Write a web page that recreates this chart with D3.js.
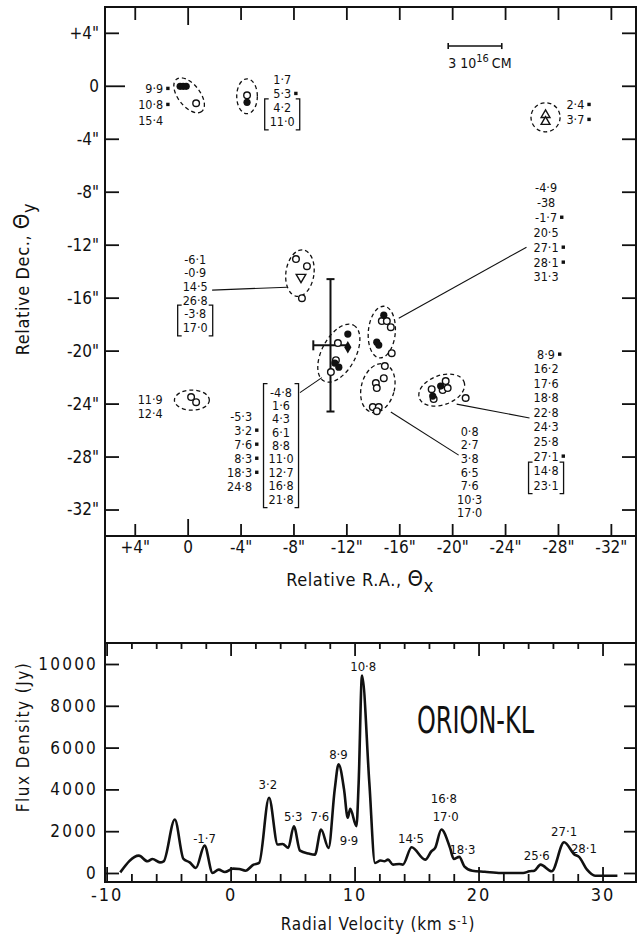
<!DOCTYPE html>
<html>
<head>
<meta charset="utf-8">
<script src="https://cdn.jsdelivr.net/npm/d3@7"></script>
<style>
  body { margin: 0; background: #fff; }
  text { font-family: "Liberation Sans Narrow", "DejaVu Sans Condensed", sans-serif; font-stretch: condensed; fill: #111; }
</style>
</head>
<body>
<script>
// ---- map panel: tick values (arcsec)
var raTicks = [4, 0, -4, -8, -12, -16, -20, -24, -28, -32];
var decTicks = [4, 0, -4, -8, -12, -16, -20, -24, -28, -32];

// maser spot groups, [theta_x, theta_y] in arcsec
var openSpots = [
  [-0.64, -1.32], [-4.49, -0.72],
  [-8.19, -13.09], [-9.02, -13.62], [-8.64, -16.04],
  [-0.26, -23.51], [-0.64, -23.89],
  [-11.36, -19.43], [-11.21, -20.72], [-10.83, -21.62],
  [-14.68, -17.77], [-15.06, -17.77], [-15.36, -18.23], [-15.43, -20.19],
  [-14.91, -21.17], [-14.83, -22.08], [-14.23, -22.45], [-14.30, -22.83], [-14.00, -24.26], [-14.45, -24.26], [-14.30, -24.57],
  [-18.45, -22.91], [-18.60, -23.66], [-19.28, -22.98], [-19.51, -22.30], [-19.66, -22.83], [-21.02, -23.58]
];
var filledSpots = [
  [0.57, -0.04], [0.34, -0.04], [0.11, -0.04], [-4.49, -1.25],
  [-12.11, -18.75], [-11.13, -20.94], [-11.43, -21.25],
  [-14.83, -17.32], [-14.30, -19.36], [-14.45, -19.58],
  [-18.53, -23.43], [-19.13, -22.68]
];
var diamondSpots = [[-12.11, -19.74]];
var upTriangles = [[-27.06, -2.2], [-27.06, -2.72]];
var downTriangles = [[-8.57, -14.45]];

// dashed outlines: [cx, cy, rx, ry, tilt deg]
var groupOutlines = [
  [-0.11, -0.72, 1.55, 0.83, 52],
  [-4.49, -0.79, 0.78, 1.32, 0],
  [-27.06, -2.38, 1.1, 1.1, 0],
  [-8.49, -14.15, 1.06, 1.77, 8],
  [-0.32, -23.74, 1.32, 0.76, 0],
  [-11.43, -20.19, 2.39, 1.28, -62],
  [-14.68, -18.6, 1.02, 1.96, 5],
  [-14.38, -22.83, 1.25, 1.89, 15],
  [-19.21, -22.98, 1.8, 1.11, -20]
];

// error cross: centre, half widths (arcsec)
var errCentre = [-10.8, -19.6];
var errHalf = [1.3, 5.0];

// scale bar (arcsec)
var scaleBar = [-19.7, -23.75, 3.0];

// leader lines [x1, y1, x2, y2]
var leaders = [
  [-1.85, -15.43, -7.51, -15.21],
  [-8.49, -23.17, -10.15, -22.04],
  [-15.96, -17.55, -25.62, -12.19],
  [-15.36, -24.64, -20.49, -27.89],
  [-20.34, -24.04, -25.85, -25.09]
];

// velocities listed beside each group (km/s)
var velA = ["9·9", "10·8", "15·4"];
var markA = [0, 1];
var velB = ["1·7", "5·3", "4·2", "11·0"];
var markB = [1];
var velC = ["2·4", "3·7"];
var markC = [0, 1];
var velD = ["-6·1", "-0·9", "14·5", "26·8", "-3·8", "17·0"];
var velE = ["11·9", "12·4"];
var velF1 = ["-5·3", "3·2", "7·6", "8·3", "18·3", "24·8"];
var markF1 = [1, 2, 3, 4];
var velF2 = ["-4·8", "1·6", "4·3", "6·1", "8·8", "11·0", "12·7", "16·8", "21·8"];
var velG = ["-4·9", "-38", "-1·7", "20·5", "27·1", "28·1", "31·3"];
var markG = [2, 4, 5];
var velH = ["0·8", "2·7", "3·8", "6·5", "7·6", "10·3", "17·0"];
var velI = ["8·9", "16·2", "17·6", "18·8", "22·8", "24·3", "25·8", "27·1", "14·8", "23·1"];
var markI = [0, 7];

// ---- spectrum
var velTicks = d3.range(-10, 31, 2);
var fluxTicks = [0, 2000, 4000, 6000, 8000, 10000];
var specVel = [-8.9, -7.4, -6.7, -6.3, -5.7, -5.4, -4.5, -3.8, -3.3, -2.8, -2.1, -1.45, -0.96, -0.46, 0.2, 0.7, 1.2, 1.85, 2.3,
  3.1, 3.8, 4.2, 4.65, 5.1, 5.6, 6.3, 6.8, 7.3, 7.9, 8.4, 8.71, 9.15, 9.45, 9.65, 10.15, 10.33, 10.6, 11.19, 11.65,
  12.1, 12.4, 12.7, 13.1, 13.6, 13.9, 14.6, 15.7, 16.2, 16.5, 17.0, 17.7, 18.0, 18.45, 18.85, 19.5, 20.5, 21.8,
  23.1, 23.6, 24.1, 24.5, 25.0, 25.9, 26.9, 27.75, 28.1, 28.75, 29.4, 31.2];
var specFlux = [30, 830, 560, 670, 510, 560, 2560, 670, 510, 240, 1310, 0, 160, 50, 210, 190, 110, 400, 480,
  3600, 1360, 1390, 1200, 2240, 1070, 930, 880, 2080, 1200, 4000, 5200, 4000, 2640, 3070, 2240, 4320, 9450, 4320, 480,
  600, 560, 640, 400, 430, 400, 1230, 640, 1040, 1200, 2080, 1200, 670, 770, 320, 110, 60, 0,
  0, 0, 80, 110, 400, 80, 1470, 880, 770, 160, -130, -130];
var peakLabels = ["-1·7", "3·2", "5·3", "7·6", "8·9", "9·9", "10·8", "14·5", "16·8", "17·0", "18·3", "25·6", "27·1", "28·1"];
var peakLabelVel = [-2.1, 3.0, 5.05, 7.2, 8.7, 9.55, 10.7, 14.55, 17.2, 17.35, 18.7, 24.7, 26.9, 28.5];
var peakLabelFlux = [1680, 4240, 2720, 2720, 5680, 1570, 9890, 1680, 3550, 2720, 1120, 830, 2000, 1170];

// ---- layout
var frameL = 105, frameR = 636, mapTop = 7, mapBot = 536, specTop = 643, specBot = 882;

var svg = d3.select("body").append("svg").attr("width", 642).attr("height", 937);

var x = d3.scaleLinear().domain([6.25, -33.9]).range([frameL, frameR]);
var y = d3.scaleLinear().domain([5.95, -34.0]).range([mapTop, mapBot]);
var pxPerArc = x(0) - x(1);

var sx = d3.scaleLinear().domain([-10.13, 32.7]).range([frameL, frameR]);
var sy = d3.scaleLinear().domain([-431, 11005]).range([specBot, specTop]);

function arcFmt(d) { return d > 0 ? "+" + d + "\"" : d === 0 ? "0" : d + "\""; }

// map axes, ticks pointing inwards
function styleAxis(g, size) {
  g.select(".domain").remove();
  g.selectAll("line").attr("stroke", "#111").attr("stroke-width", 1.8);
  g.selectAll("text").style("font-size", size + "px").attr("fill", "#111");
}
svg.append("g").attr("transform", "translate(0," + mapBot + ")")
  .call(d3.axisBottom(x).tickValues(raTicks).tickSize(-12).tickSizeOuter(0).tickPadding(5).tickFormat(arcFmt))
  .call(styleAxis, 17)
  .selectAll(".tick line").filter(function(d) { return d === 0; }).attr("y2", -17);
svg.append("g").attr("transform", "translate(0," + mapTop + ")")
  .call(d3.axisTop(x).tickValues(raTicks).tickSize(-13).tickSizeOuter(0).tickFormat(""))
  .call(styleAxis, 17)
  .selectAll(".tick line").filter(function(d) { return d === 0; }).attr("y2", 18);
svg.append("g").attr("transform", "translate(" + frameL + ",0)")
  .call(d3.axisLeft(y).tickValues(decTicks).tickSize(-14).tickSizeOuter(0).tickPadding(6).tickFormat(arcFmt))
  .call(styleAxis, 17)
  .selectAll(".tick line").filter(function(d) { return d === 0; }).attr("x2", 20);
svg.append("g").attr("transform", "translate(" + frameR + ",0)")
  .call(d3.axisRight(y).tickValues(decTicks).tickSize(-14).tickSizeOuter(0).tickFormat(""))
  .call(styleAxis, 17);

// spectrum axes
var bottomAx = svg.append("g").attr("transform", "translate(0," + specBot + ")")
  .call(d3.axisBottom(sx).tickValues(velTicks).tickSize(-8).tickSizeOuter(0).tickPadding(6)
    .tickFormat(function(d) { return d % 10 === 0 ? d : ""; }))
  .call(styleAxis, 18);
bottomAx.selectAll("text").style("letter-spacing", "2px");
bottomAx.selectAll(".tick line").filter(function(d) { return d % 10 === 0; }).attr("y2", -15);
svg.append("g").attr("transform", "translate(0," + specTop + ")")
  .call(d3.axisTop(sx).tickValues(velTicks).tickSize(-6).tickSizeOuter(0).tickFormat(""))
  .call(styleAxis, 18)
  .selectAll(".tick line").filter(function(d) { return d % 10 === 0; }).attr("y2", 13);
var leftAx = svg.append("g").attr("transform", "translate(" + frameL + ",0)")
  .call(d3.axisLeft(sy).tickValues(fluxTicks).tickSize(-14).tickSizeOuter(0).tickPadding(7).tickFormat(d3.format("d")))
  .call(styleAxis, 17);
leftAx.selectAll("text").style("letter-spacing", "2.2px");
svg.append("g").attr("transform", "translate(" + frameR + ",0)")
  .call(d3.axisRight(sy).tickValues(fluxTicks).tickSize(-12).tickSizeOuter(0).tickFormat(""))
  .call(styleAxis, 17);

// outer frame and panel dividers
svg.append("rect").attr("x", frameL).attr("y", mapTop).attr("width", frameR - frameL).attr("height", specBot - mapTop)
  .attr("fill", "none").attr("stroke", "#111").attr("stroke-width", 2);
[mapBot, specTop].forEach(function(yy) {
  svg.append("line").attr("x1", frameL).attr("x2", frameR).attr("y1", yy).attr("y2", yy)
    .attr("stroke", "#111").attr("stroke-width", 2);
});

// ---- map content
var map = svg.append("g");

map.selectAll("ellipse.grp").data(groupOutlines).join("ellipse")
  .attr("class", "grp")
  .attr("rx", function(d) { return d[2] * pxPerArc; })
  .attr("ry", function(d) { return d[3] * pxPerArc; })
  .attr("transform", function(d) { return "translate(" + x(d[0]) + "," + y(d[1]) + ") rotate(" + d[4] + ")"; })
  .attr("fill", "none").attr("stroke", "#111").attr("stroke-width", 1.3).attr("stroke-dasharray", "4,3");

map.selectAll("line.leader").data(leaders).join("line")
  .attr("class", "leader")
  .attr("x1", function(d) { return x(d[0]); }).attr("y1", function(d) { return y(d[1]); })
  .attr("x2", function(d) { return x(d[2]); }).attr("y2", function(d) { return y(d[3]); })
  .attr("stroke", "#111").attr("stroke-width", 1.1);

// error cross
var ex = x(errCentre[0]), ey = y(errCentre[1]);
var eTop = y(errCentre[1] + errHalf[1]), eBot = y(errCentre[1] - errHalf[1]);
var eLeft = x(errCentre[0] + errHalf[0]), eRight = x(errCentre[0] - errHalf[0]);
var err = map.append("g").attr("stroke", "#111").attr("stroke-width", 2);
err.append("line").attr("x1", ex).attr("x2", ex).attr("y1", eTop).attr("y2", eBot);
err.append("line").attr("x1", ex - 4).attr("x2", ex + 4).attr("y1", eTop).attr("y2", eTop);
err.append("line").attr("x1", ex - 4).attr("x2", ex + 4).attr("y1", eBot).attr("y2", eBot);
err.append("line").attr("x1", eLeft).attr("x2", eRight).attr("y1", ey).attr("y2", ey);
err.append("line").attr("x1", eLeft).attr("x2", eLeft).attr("y1", ey - 5).attr("y2", ey + 5);

map.selectAll("circle.open").data(openSpots).join("circle")
  .attr("class", "open")
  .attr("cx", function(d) { return x(d[0]); }).attr("cy", function(d) { return y(d[1]); })
  .attr("r", 3.3).attr("fill", "#fff").attr("stroke", "#111").attr("stroke-width", 1.4);
map.selectAll("circle.filled").data(filledSpots).join("circle")
  .attr("class", "filled")
  .attr("cx", function(d) { return x(d[0]); }).attr("cy", function(d) { return y(d[1]); })
  .attr("r", 3.6).attr("fill", "#111");
map.selectAll("path.diamond").data(diamondSpots).join("path")
  .attr("class", "diamond")
  .attr("d", d3.symbol(d3.symbolDiamond, 45))
  .attr("transform", function(d) { return "translate(" + x(d[0]) + "," + y(d[1]) + ")"; })
  .attr("fill", "#111");
map.selectAll("path.up").data(upTriangles).join("path")
  .attr("class", "up")
  .attr("d", d3.symbol(d3.symbolTriangle, 34))
  .attr("transform", function(d) { return "translate(" + x(d[0]) + "," + y(d[1]) + ")"; })
  .attr("fill", "#fff").attr("stroke", "#111").attr("stroke-width", 1.4);
map.selectAll("path.down").data(downTriangles).join("path")
  .attr("class", "down")
  .attr("d", d3.symbol(d3.symbolTriangle, 40))
  .attr("transform", function(d) { return "translate(" + x(d[0]) + "," + y(d[1]) + ") rotate(180)"; })
  .attr("fill", "#fff").attr("stroke", "#111").attr("stroke-width", 1.4);

// scale bar
var sb = map.append("g").attr("stroke", "#111").attr("stroke-width", 1.6);
sb.append("line").attr("x1", x(scaleBar[0])).attr("x2", x(scaleBar[1])).attr("y1", y(scaleBar[2])).attr("y2", y(scaleBar[2]));
[scaleBar[0], scaleBar[1]].forEach(function(v) {
  sb.append("line").attr("x1", x(v)).attr("x2", x(v)).attr("y1", y(scaleBar[2]) - 3).attr("y2", y(scaleBar[2]) + 3);
});
var sbt = map.append("text").attr("x", x(scaleBar[0])).attr("y", y(scaleBar[2]) + 22).style("font-size", "14px");
sbt.append("tspan").text("3 10");
sbt.append("tspan").attr("dy", -6).style("font-size", "11px").text("16");
sbt.append("tspan").attr("dy", 6).attr("dx", 3).text("CM");

// velocity lists beside the groups
var blocks = [
  {lines: velA, marks: markA, x: 1.85, y: -0.19, step: 1.21, anchor: "end"},
  {lines: velB, marks: markB, bracket: [2, 3], x: -7.15, y: 0.49, step: 1.06, anchor: "middle"},
  {lines: velC, marks: markC, x: -28.64, y: -1.4, step: 1.13, anchor: "start"},
  {lines: velD, bracket: [4, 5], x: -0.57, y: -13.09, step: 1.03, anchor: "middle"},
  {lines: velE, x: 2.83, y: -23.7, step: 1.06, anchor: "middle"},
  {lines: velF1, marks: markF1, x: -4.87, y: -24.94, step: 1.06, anchor: "end"},
  {lines: velF2, bracket: [0, 8], x: -7.06, y: -23.13, step: 1.01, anchor: "middle"},
  {lines: velG, marks: markG, x: -27.1, y: -7.66, step: 1.13, anchor: "middle"},
  {lines: velI, marks: markI, bracket: [8, 9], x: -27.1, y: -20.26, step: 1.1, anchor: "middle"},
  {lines: velH, x: -21.32, y: -26.08, step: 1.03, anchor: "middle"}
];

blocks.forEach(function(b) {
  var g = map.append("g");
  var texts = g.selectAll("text").data(b.lines).join("text")
    .attr("x", x(b.x))
    .attr("y", function(d, i) { return y(b.y - i * b.step); })
    .attr("dy", "0.36em")
    .attr("text-anchor", b.anchor)
    .style("font-size", "12.5px")
    .text(function(d) { return d; });
  var boxes = texts.nodes().map(function(n) { return n.getBBox(); });
  (b.marks || []).forEach(function(i) {
    var bb = boxes[i];
    g.append("rect").attr("x", bb.x + bb.width + 3).attr("y", y(b.y - i * b.step) - 1.6)
      .attr("width", 3.4).attr("height", 3.4).attr("fill", "#111");
  });
  if (b.bracket) {
    var sel = boxes.slice(b.bracket[0], b.bracket[1] + 1);
    var x0 = d3.min(sel, function(bb) { return bb.x; }) - 5;
    var x1 = d3.max(sel, function(bb) { return bb.x + bb.width; }) + 5;
    var y0 = d3.min(sel, function(bb) { return bb.y; }) - 1;
    var y1 = d3.max(sel, function(bb) { return bb.y + bb.height; }) + 1;
    g.append("path")
      .attr("d", "M" + (x0 + 4) + "," + y0 + "H" + x0 + "V" + y1 + "H" + (x0 + 4) +
        "M" + (x1 - 4) + "," + y0 + "H" + x1 + "V" + y1 + "H" + (x1 - 4))
      .attr("fill", "none").attr("stroke", "#111").attr("stroke-width", 1.3);
  }
});

// axis titles
var raT = svg.append("text").attr("x", 360).attr("y", 586).attr("text-anchor", "middle")
  .style("font-size", "18px").style("letter-spacing", "0.6px");
raT.append("tspan").text("Relative R.A.,  ");
raT.append("tspan").style("font-size", "22px").text("Θ");
raT.append("tspan").attr("dy", 6).text("x");

var decT = svg.append("text").attr("transform", "translate(29,279) rotate(-90)").attr("text-anchor", "middle")
  .style("font-size", "18px").style("letter-spacing", "0.6px");
decT.append("tspan").text("Relative Dec.,  ");
decT.append("tspan").style("font-size", "22px").text("Θ");
decT.append("tspan").attr("dy", 6).text("y");

svg.append("text").attr("transform", "translate(29,737) rotate(-90)").attr("text-anchor", "middle")
  .style("font-size", "17px").style("letter-spacing", "1.5px")
  .text("Flux Density (Jy)");

var rvT = svg.append("text").attr("x", 378).attr("y", 930).attr("text-anchor", "middle")
  .style("font-size", "17px").style("letter-spacing", "0.8px");
rvT.append("tspan").text("Radial   Velocity (km s");
rvT.append("tspan").attr("dy", -6).style("font-size", "11px").text("-1");
rvT.append("tspan").attr("dy", 6).text(")");

// ---- spectrum
var line = d3.line()
  .x(function(d) { return sx(d[0]); })
  .y(function(d) { return sy(d[1]); })
  .curve(d3.curveMonotoneX);
svg.append("path")
  .datum(d3.zip(specVel, specFlux))
  .attr("d", line)
  .attr("fill", "none").attr("stroke", "#111").attr("stroke-width", 2.6).attr("stroke-linejoin", "round");

svg.selectAll("text.peak").data(peakLabels).join("text")
  .attr("class", "peak")
  .attr("x", function(d, i) { return sx(peakLabelVel[i]); })
  .attr("y", function(d, i) { return sy(peakLabelFlux[i]); })
  .attr("dy", "0.36em")
  .attr("text-anchor", "middle")
  .style("font-size", "13px")
  .text(function(d) { return d; });

svg.append("text").attr("x", 417).attr("y", 733)
  .attr("textLength", 117).attr("lengthAdjust", "spacingAndGlyphs")
  .style("font-size", "38px")
  .text("ORION-KL");
</script>
</body>
</html>
